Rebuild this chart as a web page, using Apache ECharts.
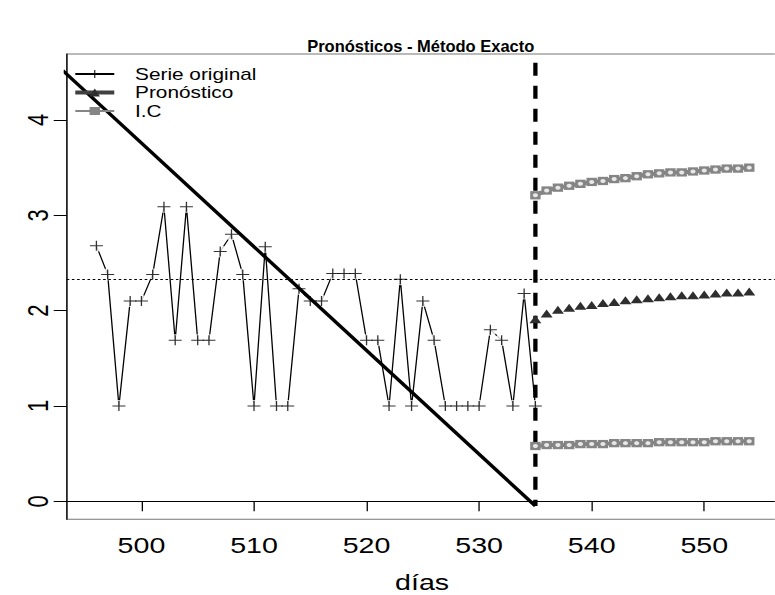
<!DOCTYPE html>
<html>
<head>
<meta charset="utf-8">
<script src="https://cdn.jsdelivr.net/npm/echarts@6/dist/echarts.min.js"></script>
<style>
  html, body { margin: 0; padding: 0; background: #fff; overflow: hidden; }
  #wrap { width: 775px; height: 595px; overflow: hidden; }
  /* the plot is laid out on a narrower canvas and widened horizontally */
  #chart { width: 596px; height: 595px; transform: scaleX(1.3); transform-origin: 0 0; }
</style>
</head>
<body>
<div id="wrap"><div id="chart"></div></div>
<script>
// observed series (días 496–535)
const days = [496,497,498,499,500,501,502,503,504,505,506,507,508,509,510,511,512,513,514,515,
              516,517,518,519,520,521,522,523,524,525,526,527,528,529,530,531,532,533,534,535];
const serie = [2.68,2.38,1.00,2.10,2.10,2.38,3.09,1.69,3.09,1.69,1.69,2.62,2.80,2.38,1.00,2.67,1.00,1.00,2.23,2.10,
               2.10,2.39,2.39,2.39,1.69,1.69,1.00,2.33,1.00,2.10,1.69,1.00,1.00,1.00,1.00,1.80,1.69,1.00,2.18,1.00];

// forecast horizon (días 535–554) with interval bounds
const fcDays = [535,536,537,538,539,540,541,542,543,544,545,546,547,548,549,550,551,552,553,554];
const pronostico = [1.91,1.97,2.01,2.03,2.05,2.06,2.08,2.09,2.11,2.12,2.13,2.14,2.15,2.16,2.16,2.17,2.18,2.19,2.19,2.20];
const icUpper = [3.21,3.26,3.29,3.31,3.33,3.35,3.36,3.38,3.39,3.41,3.43,3.44,3.45,3.45,3.46,3.47,3.48,3.49,3.49,3.50];
const icLower = [0.58,0.59,0.59,0.59,0.60,0.60,0.60,0.61,0.61,0.61,0.61,0.62,0.62,0.62,0.62,0.62,0.63,0.63,0.63,0.63];

// fitted trend line, mean level and forecast origin
const trendDays = [493, 535];
const trendValues = [4.52, -0.05];
const meanLevel = 2.33;
const cutDay = 535;
const cutValues = [4.6, -0.05];

// axis ticks
const xTicks = [500, 510, 520, 530, 540, 550];
const yTicks = [0, 1, 2, 3, 4];

const STRETCH = 1.3;
const FONT = '"Liberation Sans", Arial, Helvetica, sans-serif';
const plusPath = 'path://M4.5,0H5.5V4.5H10V5.5H5.5V10H4.5V5.5H0V4.5H4.5Z';

const pairs = (xs, ys) => xs.map((x, i) => [x, ys[i]]);
const obs = pairs(days, serie);

const chart = echarts.init(document.getElementById('chart'), null, { renderer: 'svg' });

const gridLeft = 51.3, gridTop = 54, gridBottom = 75.7;
const plotCenter = (gridLeft + 596) / 2;

chart.setOption({
  animation: false,
  backgroundColor: '#fff',
  graphic: [{
    type: 'text',
    x: plotCenter, y: 46,
    scaleX: 1 / STRETCH,
    style: {
      x: 0, y: 0,
      text: 'Pronósticos - Método Exacto',
      textAlign: 'center', textVerticalAlign: 'middle',
      font: 'bold 16.5px ' + FONT, fill: '#000'
    }
  }],
  legend: {
    orient: 'vertical',
    left: 55.9, top: 66,
    itemWidth: 30, itemHeight: 10, itemGap: 2.5,
    padding: 0,
    selectedMode: false,
    textStyle: { fontFamily: FONT, fontSize: 16, color: '#000', padding: [0, 0, 0, 11] },
    data: [
      { name: 'Serie original' },
      { name: 'Pronóstico', lineStyle: { opacity: 1, width: 4, color: '#404040' } },
      { name: 'I.C' }
    ]
  },
  grid: {
    left: gridLeft, right: -2, top: gridTop, bottom: gridBottom,
    outerBoundsMode: 'none', containLabel: false,
    show: true, borderColor: '#777', borderWidth: 1
  },
  xAxis: {
    type: 'value', min: 493.36, max: 556.5,
    name: 'días', nameLocation: 'middle', nameGap: 52,
    nameTextStyle: { fontFamily: FONT, fontSize: 22, color: '#000' },
    axisLine: { show: true, lineStyle: { color: '#000', width: 1 } },
    axisTick: { show: true, length: 10, customValues: xTicks, lineStyle: { color: '#000' } },
    axisLabel: { customValues: xTicks, margin: 15, fontFamily: FONT, fontSize: 22, color: '#000' },
    splitLine: { show: false }
  },
  yAxis: {
    type: 'value', min: -0.189, max: 4.692,
    axisLine: { show: true, lineStyle: { color: '#000', width: 1 } },
    axisTick: { show: true, length: 10, customValues: yTicks, lineStyle: { color: '#000' } },
    axisLabel: { customValues: yTicks, rotate: 90, margin: 11, fontFamily: FONT, fontSize: 22, color: '#000' },
    splitLine: { show: false }
  },
  series: [
    {
      name: 'Serie original', type: 'line', data: obs,
      symbol: plusPath, symbolSize: 10, showSymbol: false,
      itemStyle: { color: '#000' },
      lineStyle: { color: '#000', width: 1 },
      z: 1, silent: true
    },
    {
      // white discs open a small gap in the connecting line around each point
      type: 'scatter', data: obs, symbol: 'circle', symbolSize: 12,
      itemStyle: { color: '#fff' }, z: 2, silent: true
    },
    {
      type: 'line', data: pairs(trendDays, trendValues), symbol: 'none',
      lineStyle: { color: '#000', width: 3 }, z: 3, silent: true,
      markLine: {
        silent: true, symbol: 'none', label: { show: false },
        lineStyle: { color: '#000', width: 1, type: [2, 2] },
        data: [{ yAxis: meanLevel }]
      }
    },
    {
      type: 'line', data: [[cutDay, cutValues[0]], [cutDay, cutValues[1]]], symbol: 'none',
      lineStyle: { color: '#000', width: 3.3, type: [13, 10] }, z: 3, silent: true
    },
    {
      type: 'scatter', data: obs, symbol: plusPath, symbolSize: 10,
      itemStyle: { color: '#000' }, z: 4, silent: true
    },
    {
      name: 'Pronóstico', type: 'line', data: pairs(fcDays, pronostico),
      symbol: 'triangle', symbolSize: [9.2, 8], showSymbol: true,
      itemStyle: { color: '#2e2e2e' },
      lineStyle: { color: '#404040', width: 4, opacity: 0 },
      z: 5, silent: true
    },
    {
      name: 'I.C', type: 'line', data: pairs(fcDays, icUpper),
      symbol: 'rect', symbolSize: [8, 8.3], showSymbol: true,
      itemStyle: { color: '#858585' },
      lineStyle: { color: '#858585', width: 4 },
      z: 5, silent: true
    },
    {
      name: 'I.C', type: 'line', data: pairs(fcDays, icLower),
      symbol: 'rect', symbolSize: [8, 8.3], showSymbol: true,
      itemStyle: { color: '#858585' },
      lineStyle: { color: '#858585', width: 4 },
      z: 5, silent: true
    },
    {
      type: 'scatter', data: pairs(fcDays, icUpper).concat(pairs(fcDays, icLower)),
      symbol: 'emptyCircle', symbolSize: 4,
      itemStyle: { color: 'transparent', borderColor: '#c4c4c4', borderWidth: 1 },
      z: 6, silent: true
    }
  ]
});
</script>
</body>
</html>
